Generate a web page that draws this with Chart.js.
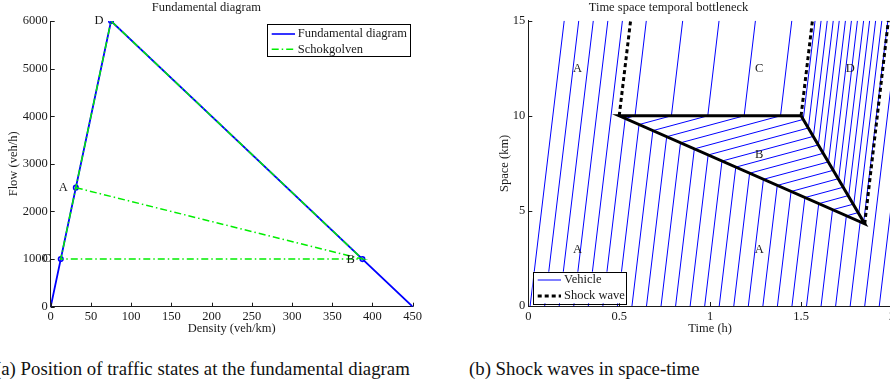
<!DOCTYPE html>
<html><head><meta charset="utf-8">
<script src="https://cdn.jsdelivr.net/npm/chart.js@4/dist/chart.umd.min.js"></script>
<style>
html,body{margin:0;padding:0;background:#fff;overflow:hidden;width:890px;height:385px;}
#wrap{position:relative;width:890px;height:385px;overflow:hidden;background:#fff;}
.cv{position:absolute;top:0;}
.cap{position:absolute;top:360px;font-family:"Liberation Serif",serif;font-size:18.8px;line-height:1;color:#111;white-space:nowrap;}
</style></head><body>
<div id="wrap">
<div class="cv" style="left:0;width:445px;height:345px"><canvas id="c1" width="445" height="345"></canvas></div>
<div class="cv" style="left:445px;width:460px;height:345px"><canvas id="c2" width="460" height="345"></canvas></div>
<div class="cap" style="left:-5px">(a) Position of traffic states at the fundamental diagram</div>
<div class="cap" style="left:469px">(b) Shock waves in space-time</div>
</div>
<script>
// ---------- (a) Fundamental diagram data ----------
const fdDensity = [0, 75, 450];
const fdFlow = [0, 6000, 0];
const stateNames = ['A', 'B', 'C', 'D'];
const stateDensity = [31.25, 387.5, 12.5, 75];
const stateFlow = [2500, 1000, 1000, 6000];
const shockPath = ['A', 'B', 'C', 'D', 'B'];
const densityTicks = [0, 50, 100, 150, 200, 250, 300, 350, 400, 450];
const flowTicks = [0, 1000, 2000, 3000, 4000, 5000, 6000];

// ---------- (b) Time-space data (time h, space km) ----------
const timeTicks = [0, 0.5, 1, 1.5, 2];
const spaceTicks = [0, 5, 10, 15];
const vehiclesFree = [
  [[0.01,0],[0.1975,15]], [[0.09,0],[0.2775,15]], [[0.17,0],[0.3575,15]],
  [[0.25,0],[0.4375,15]], [[0.33,0],[0.5175,15]],
  [[1.85,0],[2,12]], [[1.93,0],[2,5.6]]
];
const vehiclesViaC = [
  [[0.41,0],[0.533,9.86],[0.587,10],[0.649,15]],
  [[0.49,0],[0.609,9.54],[0.787,10],[0.849,15]],
  [[0.57,0],[0.685,9.22],[0.987,10],[1.049,15]],
  [[0.65,0],[0.761,8.90],[1.187,10],[1.249,15]],
  [[0.73,0],[0.837,8.58],[1.387,10],[1.449,15]]
];
const vehiclesViaD = [
  [[0.81,0],[0.913,8.26],[1.512,9.81],[1.577,15]],
  [[0.89,0],[0.989,7.94],[1.540,9.36],[1.610,15]],
  [[0.97,0],[1.065,7.62],[1.568,8.92],[1.644,15]],
  [[1.05,0],[1.141,7.30],[1.595,8.47],[1.677,15]],
  [[1.13,0],[1.217,6.98],[1.623,8.03],[1.710,15]],
  [[1.21,0],[1.293,6.66],[1.651,7.58],[1.744,15]],
  [[1.29,0],[1.369,6.34],[1.679,7.14],[1.777,15]],
  [[1.37,0],[1.445,6.02],[1.707,6.70],[1.810,15]],
  [[1.45,0],[1.521,5.70],[1.734,6.25],[1.844,15]],
  [[1.53,0],[1.597,5.38],[1.762,5.81],[1.877,15]],
  [[1.61,0],[1.673,5.06],[1.790,5.36],[1.910,15]],
  [[1.69,0],[1.749,4.74],[1.818,4.92],[1.944,15]],
  [[1.77,0],[1.825,4.42],[1.845,4.47],[1.977,15]]
];
const shockSolid = [[1.5,10],[0.5,10],[1.85,4.32],[1.5,10]];
const shockDotted = [
  [[0.5,10],[0.5625,15]],
  [[1.5,10],[1.5625,15]],
  [[1.85,4.32],[1.98,15]]
];
const regionNames = ['A', 'C', 'D', 'B', 'A', 'A'];
const regionTime = [0.27, 1.27, 1.77, 1.27, 0.27, 1.27];
const regionSpace = [12.45, 12.45, 12.45, 7.95, 2.95, 2.95];

// ---------- shared style ----------
const FONT = 'Liberation Serif';
const TXT = '#1a1a1a';
const fontObj = {family: FONT, size: 12.5};

const inwardTicks = {
  id: 'inwardTicks',
  afterDatasetsDraw(chart) {
    const {ctx, chartArea: a, scales: {x, y}} = chart;
    ctx.save();
    ctx.strokeStyle = TXT; ctx.lineWidth = 1;
    x.ticks.forEach(t => {
      const p = Math.round(x.getPixelForValue(t.value)) + 0.5;
      ctx.beginPath(); ctx.moveTo(p, a.bottom); ctx.lineTo(p, a.bottom - 4); ctx.stroke();
    });
    y.ticks.forEach(t => {
      const p = Math.round(y.getPixelForValue(t.value)) + 0.5;
      ctx.beginPath(); ctx.moveTo(a.left, p); ctx.lineTo(a.left + 4, p); ctx.stroke();
    });
    ctx.restore();
  }
};

function pts(list) { return list.map(p => ({x: p[0], y: p[1]})); }

function scaleOpts(ticksArr, min, max, title, isX, fit, titlePad) {
  return {
    type: 'linear', min, max,
    afterBuildTicks: s => { s.ticks = ticksArr.map(v => ({value: v})); },
    afterFit: s => { if (isX) s.height = fit; else s.width = fit; },
    grid: {display: false, drawTicks: false},
    border: {display: true, color: TXT, width: 1},
    ticks: {font: fontObj, color: TXT, padding: 3, autoSkip: false, maxRotation: 0,
            callback: v => String(v)},
    title: {display: true, text: title, font: fontObj, color: TXT, padding: titlePad}
  };
}

// ---------- chart (a) ----------
const sIdx = n => stateNames.indexOf(n);
const legendA = {
  id: 'legendA',
  afterDatasetsDraw(chart) {
    const {ctx, chartArea: a} = chart;
    const r = a.right - 3.4, t = a.top + 3.3, w = 142.6, h = 32.4, l = r - w;
    ctx.save();
    ctx.fillStyle = '#fff'; ctx.fillRect(l, t, w, h);
    ctx.strokeStyle = '#000'; ctx.lineWidth = 1; ctx.strokeRect(Math.round(l) + 0.5, Math.round(t) + 0.5, Math.round(w), Math.round(h));
    ctx.lineWidth = 1.6;
    ctx.strokeStyle = '#0000ff'; ctx.setLineDash([]);
    ctx.beginPath(); ctx.moveTo(l + 5, t + 9.7); ctx.lineTo(l + 28.3, t + 9.7); ctx.stroke();
    ctx.strokeStyle = '#00ee00'; ctx.setLineDash([7, 3, 1.5, 3]);
    ctx.beginPath(); ctx.moveTo(l + 5, t + 25); ctx.lineTo(l + 28.3, t + 25); ctx.stroke();
    ctx.setLineDash([]);
    ctx.fillStyle = TXT; ctx.font = '12.5px "' + FONT + '"'; ctx.textBaseline = 'middle'; ctx.textAlign = 'left';
    ctx.fillText('Fundamental diagram', l + 31, t + 9.7);
    ctx.fillText('Schokgolven', l + 31, t + 25);
    // state labels
    const {x, y} = chart.scales;
    const off = {A: [-12.5, 0], B: [-11.7, 1], C: [-14, 0], D: [-12, 0]};
    ctx.textAlign = 'center';
    stateNames.forEach((n, i) => {
      ctx.fillText(n, x.getPixelForValue(stateDensity[i]) + off[n][0], y.getPixelForValue(stateFlow[i]) + off[n][1]);
    });
    ctx.restore();
  }
};

new Chart(document.getElementById('c1'), {
  type: 'scatter',
  data: {
    datasets: [
      {label: 'Schokgolven', order: 0,
       data: shockPath.map(n => ({x: stateDensity[sIdx(n)], y: stateFlow[sIdx(n)]})),
       showLine: true, borderColor: '#00ee00', borderWidth: 1.5, borderDash: [7, 3, 1.5, 3],
       pointRadius: 0, tension: 0},
      {label: 'states', order: 1,
       data: stateNames.map((n, i) => ({x: stateDensity[i], y: stateFlow[i]})),
       showLine: false, pointRadius: 2.3, pointBorderWidth: 1.5,
       pointBorderColor: '#0000ff', pointBackgroundColor: 'rgba(80,80,255,0.35)'},
      {label: 'Fundamental diagram', order: 2,
       data: fdDensity.map((d, i) => ({x: d, y: fdFlow[i]})),
       showLine: true, borderColor: '#0000ff', borderWidth: 1.8, pointRadius: 0, tension: 0}
    ]
  },
  options: {
    responsive: false, animation: false, events: [],
    layout: {padding: {left: 0, right: 32.3, top: 0, bottom: 0}},
    plugins: {
      legend: {display: false}, tooltip: {enabled: false},
      title: {display: true, text: 'Fundamental diagram', font: {family: FONT, size: 12.5, weight: 'normal'},
              color: TXT, padding: {top: 0, bottom: 6}}
    },
    scales: {
      x: scaleOpts(densityTicks, 0, 450, 'Density (veh/km)', true, 38.3, {top: 0, bottom: 9.2}),
      y: scaleOpts(flowTicks, 0, 6000, 'Flow (veh/h)', false, 50.7, {top: 5.8, bottom: 0})
    }
  },
  plugins: [inwardTicks, legendA]
});

// ---------- chart (b) ----------
const legendB = {
  id: 'legendB',
  afterDatasetsDraw(chart) {
    const {ctx, chartArea: a, scales: {x, y}} = chart;
    ctx.save();
    ctx.fillStyle = TXT; ctx.font = '12.5px "' + FONT + '"'; ctx.textBaseline = 'middle'; ctx.textAlign = 'center';
    regionNames.forEach((n, i) => ctx.fillText(n, x.getPixelForValue(regionTime[i]), y.getPixelForValue(regionSpace[i])));
    const l = a.left + 4.4, b = a.bottom - 2.7, w = 93.3, h = 31.6, t = b - h;
    ctx.fillStyle = '#fff'; ctx.fillRect(l, t, w, h);
    ctx.strokeStyle = '#000'; ctx.lineWidth = 1; ctx.strokeRect(Math.round(l) + 0.5, Math.round(t) + 0.5, Math.round(w), Math.round(h));
    ctx.strokeStyle = '#0000ff'; ctx.lineWidth = 1;
    ctx.beginPath(); ctx.moveTo(l + 5, t + 8.3); ctx.lineTo(l + 28.3, t + 8.3); ctx.stroke();
    ctx.strokeStyle = '#000'; ctx.lineWidth = 3; ctx.setLineDash([4, 3]);
    ctx.beginPath(); ctx.moveTo(l + 5, t + 24.3); ctx.lineTo(l + 28.3, t + 24.3); ctx.stroke();
    ctx.setLineDash([]);
    ctx.fillStyle = TXT; ctx.textAlign = 'left';
    ctx.fillText('Vehicle', l + 31.3, t + 8.3);
    ctx.fillText('Shock wave', l + 31.3, t + 24.3);
    ctx.restore();
  }
};

const vehDs = vehiclesFree.concat(vehiclesViaC, vehiclesViaD).map(v => ({
  label: 'Vehicle', order: 2, data: pts(v), showLine: true,
  borderColor: '#0000ff', borderWidth: 1, pointRadius: 0, tension: 0
}));
const shockDs = [{
  label: 'Shock', order: 0, data: pts(shockSolid), showLine: true,
  borderColor: '#000', borderWidth: 3, pointRadius: 0, tension: 0, borderJoinStyle: 'miter'
}].concat(shockDotted.map(s => ({
  label: 'Shock wave', order: 1, data: pts(s), showLine: true,
  borderColor: '#000', borderWidth: 3, borderDash: [4, 3], pointRadius: 0, tension: 0
})));

new Chart(document.getElementById('c2'), {
  type: 'scatter',
  data: {datasets: vehDs.concat(shockDs)},
  options: {
    responsive: false, animation: false, events: [],
    layout: {padding: {left: 0, right: 13, top: 0, bottom: 0}},
    plugins: {
      legend: {display: false}, tooltip: {enabled: false},
      title: {display: true, text: 'Time space temporal bottleneck', font: {family: FONT, size: 12.5, weight: 'normal'},
              color: TXT, padding: {top: 0, bottom: 5.7}}
    },
    scales: {
      x: scaleOpts(timeTicks, 0, 2, 'Time (h)', true, 39, {top: 0, bottom: 9.2}),
      y: scaleOpts(spaceTicks, 0, 15, 'Space (km)', false, 83.3, {top: 52.5, bottom: 0})
    }
  },
  plugins: [inwardTicks, legendB]
});
</script>
</body></html>
